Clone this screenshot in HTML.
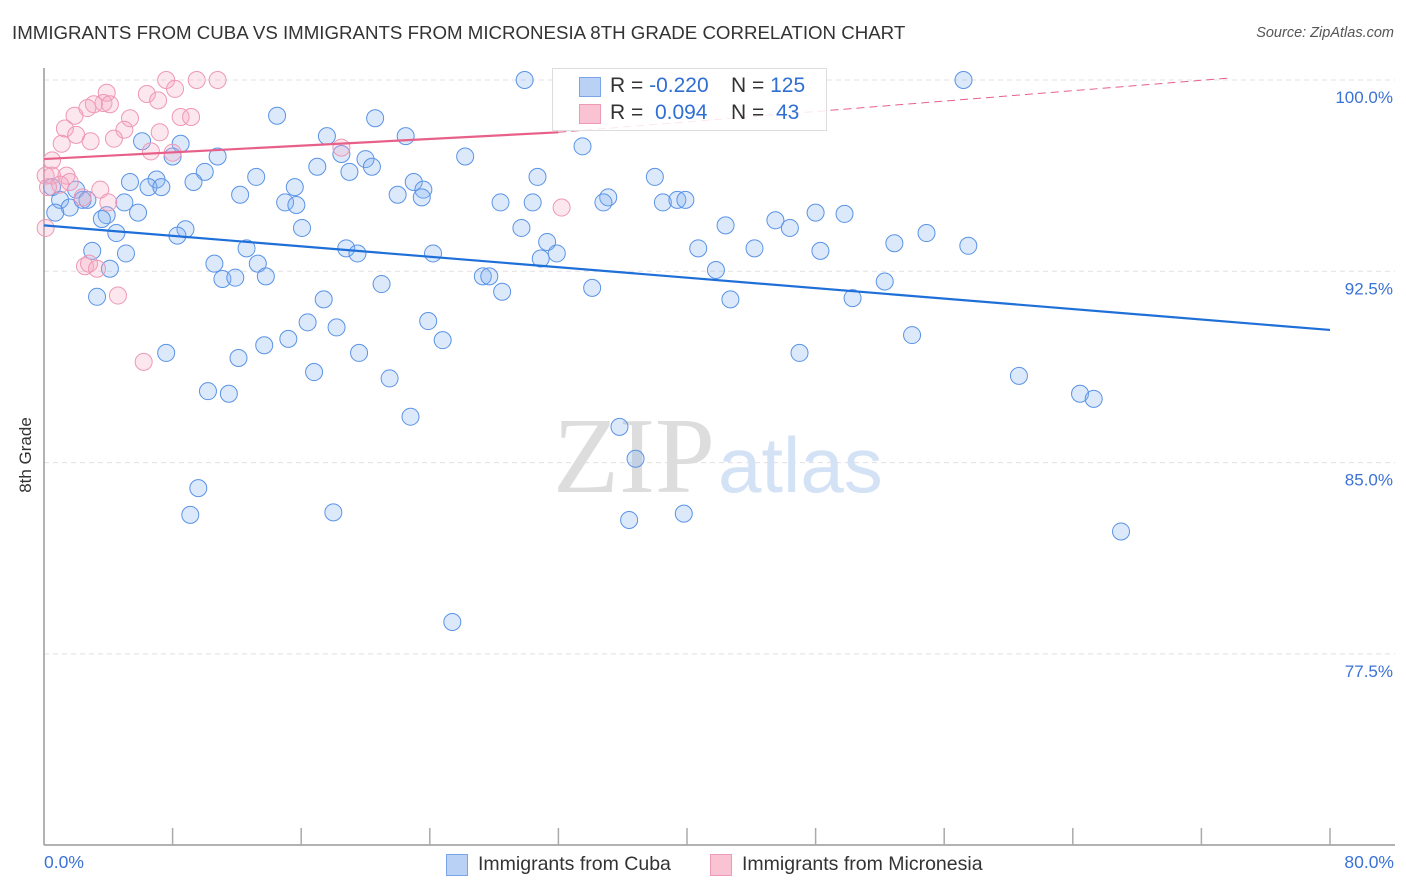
<!DOCTYPE html>
<html><head><meta charset="utf-8"><style>
body{margin:0;background:#fff;font-family:"Liberation Sans",sans-serif;}
#wrap{position:relative;width:1406px;height:892px;overflow:hidden;}
.t{position:absolute;white-space:nowrap;}
</style></head><body>
<div id="wrap">
<div class="t" style="left:12px;top:22px;font-size:18.7px;color:#333;">IMMIGRANTS FROM CUBA VS IMMIGRANTS FROM MICRONESIA 8TH GRADE CORRELATION CHART</div>
<div class="t" style="right:12px;top:25px;font-size:14.5px;color:#555;font-style:italic;">Source: ZipAtlas.com</div>
<svg id="svg" width="1406" height="892" style="position:absolute;left:0;top:0;"></svg>
</div>
<script>
const xTickVals=[0,8,16,24,32,40,48,56,64,72,80];
const yTickVals=[100,92.5,85,77.5];
const yTickLabels=["100.0%","92.5%","85.0%","77.5%"];
const cubaX=[29.9,57.2,14.5,20.6,22.5,17.6,6.1,8.5,33.5,26.2,10.8,18.5,20.0,8.0,17.0,19.0,20.4,10.0,5.35,7.0,6.5,7.3,9.3,13.2,30.7,23.0,38.0,15.6,12.2,22.0,23.6,23.5,35.1,34.8,2.0,0.5,1.0,1.6,2.4,2.7,5.0,5.85,3.9,3.6,4.5,0.7,15.0,15.7,28.4,30.4,38.5,39.4,39.9,48.0,49.8,45.5,42.4,46.4,29.7,16.05,8.8,8.3,54.9,52.9,57.5,40.7,44.2,48.3,31.3,31.9,30.9,18.8,19.5,24.2,3.0,5.1,12.6,4.1,10.6,13.3,11.1,11.9,13.8,27.3,27.7,41.8,21.0,28.5,34.1,52.3,3.3,17.4,42.7,50.3,16.4,18.2,23.9,15.2,13.7,24.8,54.0,7.6,12.1,19.6,47.0,16.8,21.5,60.65,10.2,11.5,64.45,65.3,22.8,35.8,36.8,9.6,9.1,18.0,36.4,39.8,67.0,25.4];
const cubaY=[100.0,100.0,98.6,98.5,97.8,97.8,97.6,97.5,97.4,97.0,97.0,97.1,96.9,97.0,96.6,96.4,96.6,96.4,96.0,96.1,95.8,95.8,96.0,96.2,96.2,96.0,96.2,95.8,95.5,95.5,95.7,95.4,95.4,95.2,95.7,95.8,95.3,95.0,95.3,95.3,95.2,94.8,94.7,94.55,94.0,94.8,95.2,95.1,95.2,95.2,95.2,95.3,95.3,94.8,94.75,94.5,94.3,94.2,94.2,94.2,94.15,93.9,94.0,93.6,93.5,93.4,93.4,93.3,93.65,93.2,93.0,93.4,93.2,93.2,93.3,93.2,93.4,92.6,92.8,92.8,92.2,92.25,92.3,92.3,92.3,92.55,92.0,91.7,91.85,92.1,91.5,91.4,91.4,91.45,90.5,90.3,90.55,89.85,89.6,89.8,90.0,89.3,89.1,89.3,89.3,88.55,88.3,88.4,87.8,87.7,87.7,87.5,86.8,86.4,85.15,84.0,82.95,83.05,82.75,83.0,82.3,78.75];
const micX=[7.6,9.5,10.8,3.9,8.15,6.4,3.7,4.1,7.1,3.1,2.7,1.9,5.35,8.5,9.15,1.3,5.0,7.2,2.0,4.35,2.9,1.1,6.65,8.0,18.5,0.5,0.1,0.5,1.4,1.6,1.0,3.5,2.4,4.0,0.1,2.55,2.8,3.3,4.6,6.2,32.2,0.25];
const micY=[100.0,100.0,100.0,99.5,99.65,99.45,99.1,99.05,99.2,99.05,98.9,98.6,98.5,98.55,98.55,98.1,98.05,97.95,97.85,97.7,97.6,97.5,97.2,97.15,97.35,96.85,96.25,96.25,96.25,96.0,95.9,95.7,95.4,95.2,94.2,92.7,92.8,92.6,91.55,88.95,95.0,95.8];
const cubaTrend=[94.3,90.2];
const micTrend=[96.9,97.95];
const micTrendEnd=[73.8,100.08];
const NS="http://www.w3.org/2000/svg";
const svg=document.getElementById('svg');
const X0=44,X1=1330,Ytop=80,Ybot=845;
function sx(v){return X0+(v/80)*(X1-X0);}
function sy(v){return Ytop+(100-v)/7.5*191.3;}
function mk(tag,attrs){const e=document.createElementNS(NS,tag);for(const k in attrs)e.setAttribute(k,attrs[k]);svg.appendChild(e);return e;}
yTickVals.forEach((v,i)=>{
 const g=mk('line',{x1:X0,x2:1395,y1:sy(v),y2:sy(v),stroke:'#e0e0e0','stroke-dasharray':'5,4','stroke-width':1});
 
 
 const t=mk('text',{x:1393,y:sy(v)+23,'text-anchor':'end','font-size':17,fill:'#3b72d6','font-family':'Liberation Sans'});
 t.textContent=yTickLabels[i];
 
 
});
const ax=mk('line',{x1:X0,x2:X0,y1:68,y2:Ybot,stroke:'#999','stroke-width':1.5});


const bx=mk('line',{x1:X0,x2:1395,y1:Ybot,y2:Ybot,stroke:'#999','stroke-width':1.5});


xTickVals.forEach(v=>{
 const l=mk('line',{x1:sx(v),x2:sx(v),y1:828,y2:Ybot,stroke:'#aaa','stroke-width':1.5});
 
 
});
const w1=mk('text',{x:553,y:492,'font-size':108,fill:'#ddd','font-family':'Liberation Serif'});w1.textContent='ZIP';


const w2=mk('text',{x:718,y:492,'font-size':78,fill:'#d4e2f5','font-family':'Liberation Sans'});w2.textContent='atlas';


cubaX.forEach((x,i)=>{
 const c=mk('circle',{cx:sx(x),cy:sy(cubaY[i]),r:8.5,fill:'rgba(130,175,240,0.28)',stroke:'#5a93e6','stroke-width':1});
 
 
});
micX.forEach((x,i)=>{
 const c=mk('circle',{cx:sx(x),cy:sy(micY[i]),r:8.5,fill:'rgba(245,170,195,0.28)',stroke:'#ee98b5','stroke-width':1});
 
 
});
const tl=mk('line',{x1:sx(0),y1:sy(cubaTrend[0]),x2:sx(80),y2:sy(cubaTrend[1]),stroke:'#1f6fd8','stroke-width':2.2});


const pl=mk('line',{x1:sx(0),y1:sy(micTrend[0]),x2:sx(32),y2:sy(micTrend[1]),stroke:'#e8608a','stroke-width':2.2});


const pd=mk('line',{x1:sx(32),y1:sy(micTrend[1]),x2:sx(micTrendEnd[0]),y2:sy(micTrendEnd[1]),stroke:'#e8608a','stroke-width':1,'stroke-dasharray':'8,5'});


</script>
<div style="position:absolute;left:552px;top:68px;width:273px;height:61px;border:1px solid #ddd;background:rgba(255,255,255,0.85);font-size:21px;color:#333;">
 <div style="position:absolute;left:26px;top:8px;width:20px;height:18px;background:#b9d1f5;border:1px solid #7aa5e6;"></div>
 <div class="t" style="left:57px;top:5px;">R = <span style="color:#2f6fd3">-0.220</span></div>
 <div class="t" style="left:178px;top:5px;">N = <span style="color:#2f6fd3">125</span></div>
 <div style="position:absolute;left:26px;top:35px;width:20px;height:18px;background:#f9c3d3;border:1px solid #ec9ab5;"></div>
 <div class="t" style="left:57px;top:32px;">R = &nbsp;<span style="color:#2f6fd3">0.094</span></div>
 <div class="t" style="left:178px;top:32px;">N = &nbsp;<span style="color:#2f6fd3">43</span></div>
</div>
<div class="t" style="left:-12px;top:445px;transform:rotate(-90deg);font-size:17px;color:#333;">8th Grade</div>
<div class="t" style="left:44px;top:852px;font-size:17.5px;color:#3b72d6;">0.0%</div>
<div class="t" style="right:12px;top:852px;font-size:17.5px;color:#3b72d6;">80.0%</div>
<div style="position:absolute;left:446px;top:853px;height:22px;">
 <div style="position:absolute;left:0;top:1px;width:20px;height:20px;background:#b9d1f5;border:1px solid #7aa5e6;"></div>
 <div class="t" style="left:32px;top:0;font-size:19.5px;color:#333;">Immigrants from Cuba</div>
</div>
<div style="position:absolute;left:710px;top:853px;height:22px;">
 <div style="position:absolute;left:0;top:1px;width:20px;height:20px;background:#f9c3d3;border:1px solid #ec9ab5;"></div>
 <div class="t" style="left:32px;top:0;font-size:19.5px;color:#333;">Immigrants from Micronesia</div>
</div>
</body></html>
